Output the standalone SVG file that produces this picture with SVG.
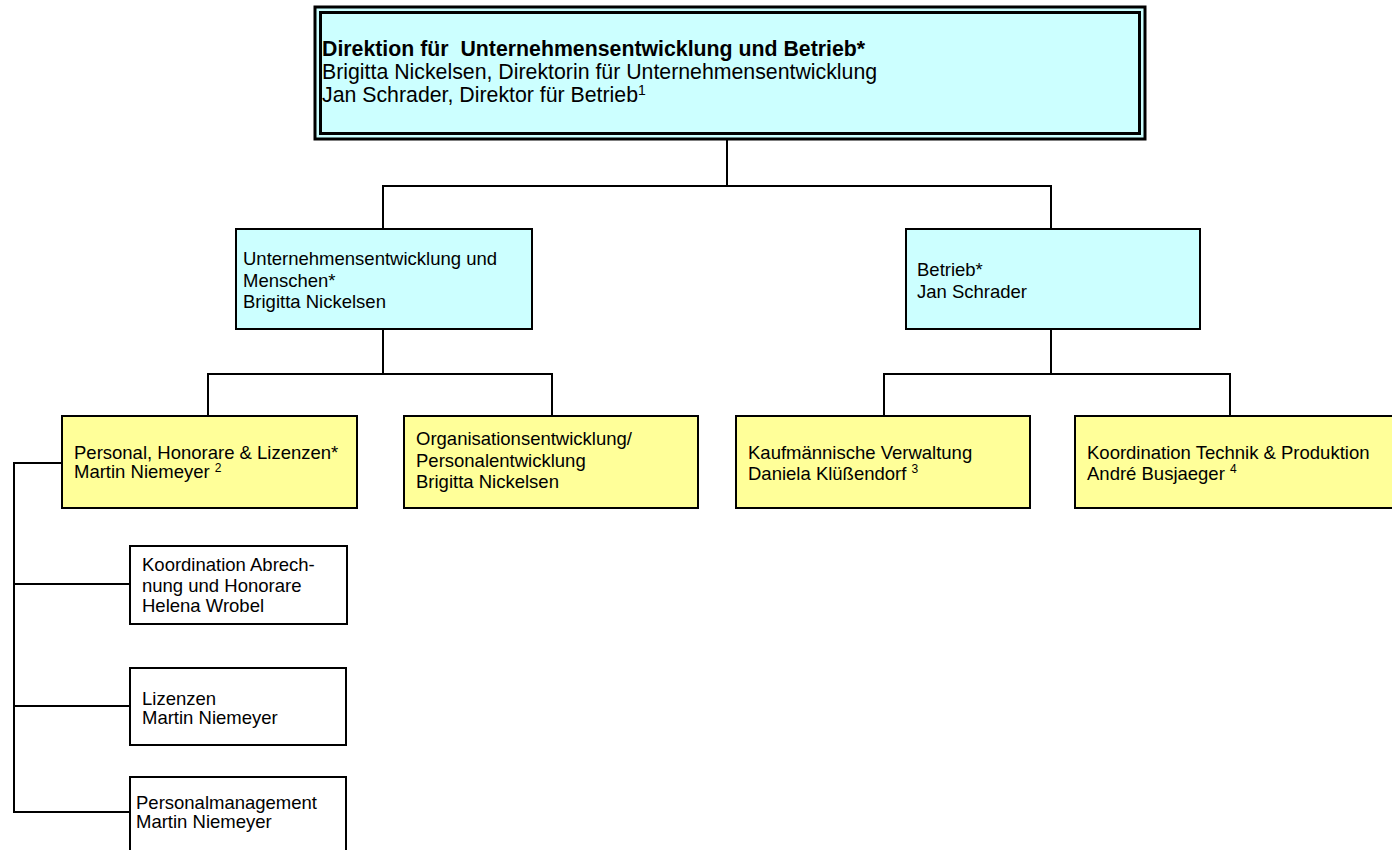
<svg xmlns="http://www.w3.org/2000/svg" width="1392" height="850" viewBox="0 0 1392 850">
<style>
text{font-family:"Liberation Sans",Arial,sans-serif;font-size:18.5px;fill:#000}
.t{font-size:21.3px}
.b{font-weight:bold}
.blue{fill:#CCFFFF;stroke:#000;stroke-width:2}
.yel{fill:#FFFF99;stroke:#000;stroke-width:2}
.wht{fill:#FFFFFF;stroke:#000;stroke-width:2}
.con line{stroke:#000;stroke-width:2}
.sup{font-size:12px}
.tsup{font-size:14px}
</style>
<rect width="1392" height="850" fill="#fff"/>
<g id="connectors" class="con">
<line x1="727" y1="140" x2="727" y2="186"/>
<line x1="382" y1="186" x2="1052" y2="186"/>
<line x1="383" y1="186" x2="383" y2="229"/>
<line x1="1051" y1="186" x2="1051" y2="229"/>
<line x1="383" y1="329" x2="383" y2="374"/>
<line x1="207" y1="374" x2="553" y2="374"/>
<line x1="208" y1="374" x2="208" y2="416"/>
<line x1="552" y1="374" x2="552" y2="416"/>
<line x1="1051" y1="329" x2="1051" y2="374"/>
<line x1="883" y1="374" x2="1231" y2="374"/>
<line x1="884" y1="374" x2="884" y2="416"/>
<line x1="1230" y1="374" x2="1230" y2="416"/>
<line x1="14" y1="463" x2="62" y2="463"/>
<line x1="14" y1="462" x2="14" y2="813"/>
<line x1="14" y1="584" x2="130" y2="584"/>
<line x1="14" y1="706" x2="130" y2="706"/>
<line x1="14" y1="812" x2="130" y2="812"/>
</g>
<g id="direktion">
<rect x="315" y="7" width="830" height="132" fill="#CCFFFF" stroke="#000" stroke-width="3"/>
<rect x="320.5" y="12.5" width="819" height="121" fill="#CCFFFF" stroke="#000" stroke-width="3"/>
<text class="t b" x="322" y="56" xml:space="preserve">Direktion für  Unternehmensentwicklung und Betrieb*</text>
<text class="t" x="322" y="79">Brigitta Nickelsen, Direktorin für Unternehmensentwicklung</text>
<text class="t" x="322" y="102">Jan Schrader, Direktor für Betrieb<tspan class="tsup" dy="-7">1</tspan></text>
</g>
<g id="ue-menschen">
<rect class="blue" x="236" y="229" width="296" height="100"/>
<text x="243" y="265">Unternehmensentwicklung und</text>
<text x="243" y="286.5">Menschen*</text>
<text x="243" y="308">Brigitta Nickelsen</text>
</g>
<g id="betrieb">
<rect class="blue" x="906" y="229" width="294" height="100"/>
<text x="917" y="276">Betrieb*</text>
<text x="917" y="298">Jan Schrader</text>
</g>
<g id="personal">
<rect class="yel" x="62" y="416" width="295" height="92"/>
<text x="74" y="459">Personal, Honorare &amp; Lizenzen*</text>
<text x="74" y="478">Martin Niemeyer <tspan class="sup" dy="-6">2</tspan></text>
</g>
<g id="organisation">
<rect class="yel" x="404" y="416" width="294" height="92"/>
<text x="416" y="445">Organisationsentwicklung/</text>
<text x="416" y="466.5">Personalentwicklung</text>
<text x="416" y="488">Brigitta Nickelsen</text>
</g>
<g id="kaufm">
<rect class="yel" x="736" y="416" width="294" height="92"/>
<text x="748" y="459">Kaufmännische Verwaltung</text>
<text x="748" y="480">Daniela Klüßendorf <tspan class="sup" dy="-7">3</tspan></text>
</g>
<g id="technik">
<rect class="yel" x="1075" y="416" width="320" height="92"/>
<text x="1087" y="459">Koordination Technik &amp; Produktion</text>
<text x="1087" y="480">André Busjaeger <tspan class="sup" dy="-7">4</tspan></text>
</g>
<g id="abrechnung">
<rect class="wht" x="130" y="546" width="217" height="78"/>
<text x="142" y="571">Koordination Abrech-</text>
<text x="142" y="591.5">nung und Honorare</text>
<text x="142" y="612">Helena Wrobel</text>
</g>
<g id="lizenzen">
<rect class="wht" x="130" y="668" width="216" height="77"/>
<text x="142" y="705">Lizenzen</text>
<text x="142" y="724">Martin Niemeyer</text>
</g>
<g id="personalmanagement">
<rect class="wht" x="130" y="777" width="216" height="80"/>
<text x="136" y="809">Personalmanagement</text>
<text x="136" y="827.5">Martin Niemeyer</text>
</g>
</svg>
